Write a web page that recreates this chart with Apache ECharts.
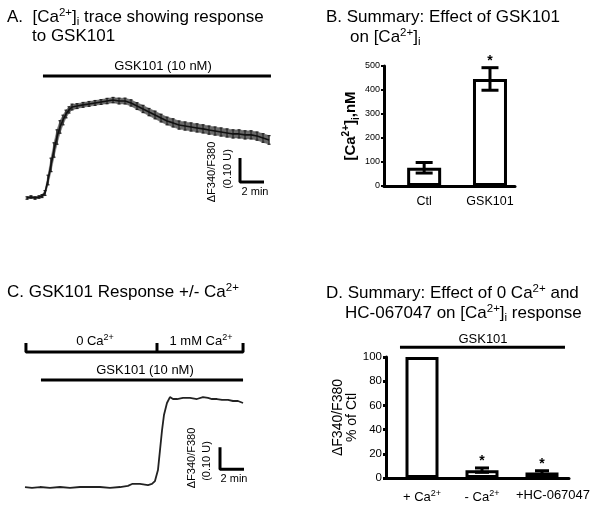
<!DOCTYPE html>
<html><head><meta charset="utf-8">
<script src="https://cdn.jsdelivr.net/npm/echarts@6/dist/echarts.min.js"></script>
<style>html,body{margin:0;padding:0;background:#fff}#c{width:601px;height:508px}</style>
</head><body><div id="c"></div>
<script>
const FONT = '"Liberation Sans", Arial, sans-serif';

// ---------- Panel A: [Ca2+]i trace (time in min, ΔF340/F380 in U) ----------
const traceA_t = [0,0.33,0.67,1.0,1.25,1.5,1.75,2.0,2.25,2.5,2.75,3.0,3.25,3.5,3.75,4.17,4.67,5.17,5.67,6.17,6.67,7.17,7.67,8.17,8.67,9.17,9.67,10.17,10.67,11.17,11.67,12.17,12.67,13.17,13.67,14.17,14.67,15.17,15.67,16.17,16.67,17.17,17.67,18.17,18.67,19.17,19.67,20.17];
const traceA_v = [0.050,0.054,0.050,0.054,0.058,0.071,0.125,0.188,0.250,0.304,0.346,0.375,0.400,0.417,0.429,0.433,0.438,0.442,0.446,0.450,0.454,0.458,0.454,0.454,0.446,0.433,0.421,0.408,0.396,0.383,0.371,0.363,0.354,0.350,0.346,0.342,0.338,0.333,0.329,0.325,0.321,0.317,0.317,0.313,0.313,0.308,0.300,0.292];
const traceA_sem = [0.005,0.005,0.005,0.005,0.006,0.010,0.020,0.028,0.030,0.030,0.026,0.020,0.016,0.013,0.012,0.010,0.010,0.010,0.010,0.010,0.011,0.011,0.012,0.012,0.013,0.014,0.015,0.015,0.016,0.016,0.016,0.017,0.017,0.017,0.017,0.017,0.017,0.017,0.017,0.017,0.017,0.017,0.017,0.017,0.017,0.017,0.018,0.018];
const gskA_span = [1.33, 20.33];
const gskA_level = 0.558;
const scaleA_origin = [17.75, 0.117];
const scaleBar_time = 2;     // min
const scaleBar_amp = 0.10;   // U

// ---------- Panel B: summary [Ca2+]i (nM) ----------
const catB = ['Ctl', 'GSK101'];
const meanB = [76, 446];
const semB = [22, 47];
const sigB = [0, 1];
const ticksB = [0, 100, 200, 300, 400, 500];

// ---------- Panel C: trace +/- Ca2+ ----------
const traceC_t = [0,0.58,1.25,2.08,2.92,3.75,4.58,5.42,6.25,7.08,7.92,8.58,8.92,9.58,10.25,10.58,10.83,11.08,11.25,11.42,11.58,11.83,12.08,12.33,12.67,13.17,13.75,14.33,14.83,15.25,15.58,16.0,16.42,16.92,17.33,17.75,18.17];
const traceC_v = [0.059,0.055,0.059,0.055,0.059,0.055,0.059,0.059,0.059,0.055,0.059,0.064,0.073,0.073,0.068,0.073,0.086,0.136,0.227,0.318,0.386,0.441,0.468,0.459,0.459,0.464,0.464,0.459,0.468,0.464,0.459,0.459,0.455,0.455,0.450,0.450,0.441];
const solC_changes = [0.08, 11.0, 18.17];   // 0 Ca2+ -> 1 mM Ca2+
const solC_level = 0.673, solC_tick = 0.714;
const gskC_span = [1.33, 18.17];
const gskC_level = 0.545;
const scaleC_origin = [16.25, 0.14];

// ---------- Panel D: summary % of Ctl ----------
const catD = ['+ Ca{sup|2+}', '- Ca{sup|2+}', '{pad|+HC-067047}'];
const meanD = [100, 6.5, 4.5];
const semD = [0, 1.8, 1.5];
const sigD = [0, 1, 1];
const gskD_span = [0.633, 3.383];
const gskD_level = 108;

const chart = echarts.init(document.getElementById('c'), null, {renderer: 'canvas'});

function errRender(capW, lw, starOff, color) {
  return function (params, api) {
    const x = api.value(0), m = api.value(1), e = api.value(2), sig = api.value(3);
    const top = api.coord([x, m + e]), bot = api.coord([x, m - e]);
    const st = {stroke: color, lineWidth: lw};
    const ch = [];
    if (e > 0) {
      ch.push({type: 'line', shape: {x1: top[0], y1: top[1], x2: bot[0], y2: bot[1]}, style: st});
      ch.push({type: 'line', shape: {x1: top[0] - capW / 2, y1: top[1], x2: top[0] + capW / 2, y2: top[1]}, style: st});
      ch.push({type: 'line', shape: {x1: bot[0] - capW / 2, y1: bot[1], x2: bot[0] + capW / 2, y2: bot[1]}, style: st});
    }
    if (sig) ch.push({type: 'text', x: top[0], y: top[1] - starOff, style: {text: '*', fill: '#000', font: 'bold 14px ' + FONT, align: 'center', verticalAlign: 'middle'}});
    return {type: 'group', children: ch};
  };
}

// SEM band segment between sample i and i+1
function bandRender(params, api) {
  const i = params.dataIndex;
  if (i >= traceA_t.length - 1) return null;
  const p = [
    api.coord([traceA_t[i], traceA_v[i] + traceA_sem[i]]),
    api.coord([traceA_t[i + 1], traceA_v[i + 1] + traceA_sem[i + 1]]),
    api.coord([traceA_t[i + 1], traceA_v[i + 1] - traceA_sem[i + 1]]),
    api.coord([traceA_t[i], traceA_v[i] - traceA_sem[i]])
  ];
  return {type: 'polygon', shape: {points: p}, style: {fill: '#6a6a6a', stroke: '#6a6a6a', lineWidth: 0.5}};
}

const titleRich = {
  n: {fontSize: 17, fontFamily: FONT, fill: '#000', lineHeight: 21},
  sup: {fontSize: 11.5, fontFamily: FONT, fill: '#000', lineHeight: 21, verticalAlign: 'top'},
  sub: {fontSize: 11.5, fontFamily: FONT, fill: '#000', lineHeight: 21, verticalAlign: 'bottom'}
};
const smallRich = {
  n: {fontSize: 13, fontFamily: FONT, fill: '#000', lineHeight: 16},
  sup: {fontSize: 9, fontFamily: FONT, fill: '#000', lineHeight: 16, verticalAlign: 'top'}
};
function txt(x, y, text, rich, align) {
  return {type: 'text', x: x, y: y, style: {text: text, rich: rich, align: align || 'left', verticalAlign: 'middle'}};
}
function rot(x, y, text, size) {
  return {type: 'text', x: x, y: y, rotation: Math.PI / 2, style: {text: text, font: size + 'px ' + FONT, fill: '#000', align: 'center', verticalAlign: 'middle'}};
}

const hiddenVal = (min, max, gi) => ({type: 'value', min: min, max: max, show: false, gridIndex: gi});

const option = {
  animation: false,
  backgroundColor: '#fff',
  textStyle: {fontFamily: FONT},
  grid: [
    {left: 27, top: 66, width: 252, height: 144},
    {left: 384, top: 66, width: 131, height: 120},
    {left: 25, top: 324, width: 228, height: 176},
    {left: 386, top: 357, width: 183, height: 121}
  ],
  xAxis: [
    hiddenVal(0, 21, 0),
    {type: 'value', gridIndex: 1, min: 0.39, max: 2.38,
     axisLine: {lineStyle: {color: '#000', width: 3}}, axisTick: {show: false}, splitLine: {show: false},
     axisLabel: {customValues: [1, 2], formatter: v => catB[Math.round(v) - 1], color: '#000', fontSize: 12.5, margin: 9}},
    hiddenVal(0, 19, 2),
    {type: 'value', gridIndex: 3, min: 0.4, max: 3.45,
     axisLine: {lineStyle: {color: '#000', width: 3}}, axisTick: {show: false}, splitLine: {show: false},
     axisLabel: {customValues: [1, 2, 3], formatter: v => catD[Math.round(v) - 1], color: '#000', fontSize: 13, margin: 11,
       rich: {sup: {fontSize: 9, verticalAlign: 'top', lineHeight: 16, color: '#000'},
              pad: {fontSize: 13, color: '#000', padding: [0, 0, 0, 22]}}}}
  ],
  yAxis: [
    hiddenVal(0, 0.6, 0),
    {type: 'value', gridIndex: 1, min: 0, max: 500, interval: 100,
     axisLine: {show: true, lineStyle: {color: '#000', width: 3}},
     axisTick: {show: true, length: 3, lineStyle: {color: '#000', width: 2}},
     splitLine: {show: false},
     axisLabel: {color: '#000', fontSize: 9, margin: 4, fontFamily: '"Liberation Sans Narrow", "Liberation Sans", Arial'},
     name: '{b|[Ca}{bs|2+}{b|]}{bsub|i}{b|,nM}', nameLocation: 'middle', nameRotate: 90, nameGap: 21,
     nameTextStyle: {rich: {
       b: {fontSize: 15, fontWeight: 'bold', color: '#000', lineHeight: 20},
       bs: {fontSize: 10, fontWeight: 'bold', color: '#000', lineHeight: 20, verticalAlign: 'top'},
       bsub: {fontSize: 10, fontWeight: 'bold', color: '#000', lineHeight: 20, verticalAlign: 'bottom'}}}},
    hiddenVal(0, 0.8, 2),
    {type: 'value', gridIndex: 3, min: 0, max: 100, interval: 20,
     axisLine: {show: true, lineStyle: {color: '#000', width: 3}},
     axisTick: {show: true, length: 3, lineStyle: {color: '#000', width: 3}},
     splitLine: {show: false},
     axisLabel: {color: '#000', fontSize: 11.5, margin: 4},
     name: 'ΔF340/F380\n% of Ctl', nameLocation: 'middle', nameRotate: 90, nameGap: 18,
     nameTextStyle: {fontSize: 14, color: '#000', lineHeight: 14}}
  ],
  series: [
    // Panel A: SEM band (mean ± sem), error bars, mean trace
    {type: 'custom', xAxisIndex: 0, yAxisIndex: 0, renderItem: bandRender,
     data: traceA_t.map((t, i) => [t, traceA_v[i]]), z: 1},
    {type: 'custom', xAxisIndex: 0, yAxisIndex: 0, renderItem: errRender(3, 1.2, 0, '#222'),
     data: traceA_t.map((t, i) => [t, traceA_v[i], traceA_sem[i], 0]), z: 2},
    {type: 'line', xAxisIndex: 0, yAxisIndex: 0, symbol: 'none', lineStyle: {color: '#111', width: 1.6},
     data: traceA_t.map((t, i) => [t, traceA_v[i]]), z: 3},
    {type: 'line', xAxisIndex: 0, yAxisIndex: 0, symbol: 'none', lineStyle: {color: '#000', width: 3},
     data: [[gskA_span[0], gskA_level], [gskA_span[1], gskA_level]]},
    {type: 'line', xAxisIndex: 0, yAxisIndex: 0, symbol: 'none', lineStyle: {color: '#000', width: 3},
     data: [[scaleA_origin[0], scaleA_origin[1] + scaleBar_amp], scaleA_origin, [scaleA_origin[0] + scaleBar_time, scaleA_origin[1]]]},
    // Panel B
    {type: 'bar', xAxisIndex: 1, yAxisIndex: 1, barWidth: 34,
     itemStyle: {color: '#fff', borderColor: '#000', borderWidth: 3},
     data: meanB.map((m, i) => [i + 1, m])},
    {type: 'custom', xAxisIndex: 1, yAxisIndex: 1, renderItem: errRender(17, 3, 7, '#000'),
     data: meanB.map((m, i) => [i + 1, m, semB[i], sigB[i]]), z: 5},
    // Panel C
    {type: 'line', xAxisIndex: 2, yAxisIndex: 2, symbol: 'none', lineStyle: {color: '#222', width: 1.8},
     data: traceC_t.map((t, i) => [t, traceC_v[i]])},
    {type: 'line', xAxisIndex: 2, yAxisIndex: 2, symbol: 'none', lineStyle: {color: '#000', width: 3},
     data: [[solC_changes[0], solC_tick], [solC_changes[0], solC_level], [solC_changes[1], solC_level], [solC_changes[1], solC_tick],
            [solC_changes[1], solC_level], [solC_changes[2], solC_level], [solC_changes[2], solC_tick]]},
    {type: 'line', xAxisIndex: 2, yAxisIndex: 2, symbol: 'none', lineStyle: {color: '#000', width: 3},
     data: [[gskC_span[0], gskC_level], [gskC_span[1], gskC_level]]},
    {type: 'line', xAxisIndex: 2, yAxisIndex: 2, symbol: 'none', lineStyle: {color: '#000', width: 3},
     data: [[scaleC_origin[0], scaleC_origin[1] + scaleBar_amp], scaleC_origin, [scaleC_origin[0] + scaleBar_time, scaleC_origin[1]]]},
    // Panel D
    {type: 'bar', xAxisIndex: 3, yAxisIndex: 3, barWidth: 33,
     itemStyle: {color: '#fff', borderColor: '#000', borderWidth: 3},
     data: meanD.map((m, i) => [i + 1, m])},
    {type: 'custom', xAxisIndex: 3, yAxisIndex: 3, renderItem: errRender(14, 3, 7, '#000'),
     data: meanD.map((m, i) => [i + 1, m, semD[i], sigD[i]]), z: 5},
    {type: 'line', xAxisIndex: 3, yAxisIndex: 3, symbol: 'none', clip: false, lineStyle: {color: '#000', width: 3},
     data: [[gskD_span[0], gskD_level], [gskD_span[1], gskD_level]]}
  ],
  graphic: [
    txt(7, 17, '{n|A.  [Ca}{sup|2+}{n|]}{sub|i}{n| trace showing response}', titleRich),
    txt(32, 36, '{n|to GSK101}', titleRich),
    txt(326, 17, '{n|B. Summary: Effect of GSK101}', titleRich),
    txt(350, 37, '{n|on [Ca}{sup|2+}{n|]}{sub|i}', titleRich),
    txt(7, 292, '{n|C. GSK101 Response +/- Ca}{sup|2+}', titleRich),
    txt(326, 293, '{n|D. Summary: Effect of 0 Ca}{sup|2+}{n| and}', titleRich),
    txt(345, 313, '{n|HC-067047 on [Ca}{sup|2+}{n|]}{sub|i}{n| response}', titleRich),
    txt(163, 66, '{n|GSK101 (10 nM)}', smallRich, 'center'),
    txt(145, 370, '{n|GSK101 (10 nM)}', smallRich, 'center'),
    txt(95, 341, '{n|0 Ca}{sup|2+}', smallRich, 'center'),
    txt(201, 341, '{n|1 mM Ca}{sup|2+}', smallRich, 'center'),
    txt(483, 339, '{n|GSK101}', smallRich, 'center'),
    rot(212, 172, 'ΔF340/F380', 11),
    rot(228, 169, '(0.10 U)', 11),
    {type: 'text', x: 255, y: 192, style: {text: '2 min', font: '11px ' + FONT, fill: '#000', align: 'center', verticalAlign: 'middle'}},
    rot(192, 458, 'ΔF340/F380', 11),
    rot(207, 461, '(0.10 U)', 11),
    {type: 'text', x: 234, y: 479, style: {text: '2 min', font: '11px ' + FONT, fill: '#000', align: 'center', verticalAlign: 'middle'}}
  ]
};
chart.setOption(option);
</script></body></html>
